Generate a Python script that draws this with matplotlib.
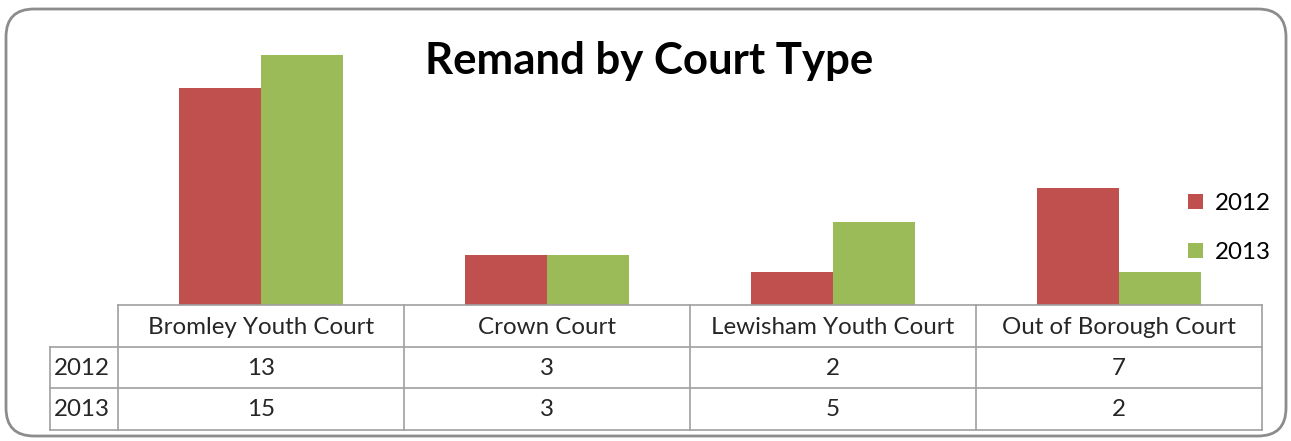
import matplotlib.pyplot as plt
from matplotlib.patches import FancyBboxPatch
import matplotlib.transforms as mtransforms
import numpy as np

courts = ["Bromley Youth Court", "Crown Court", "Lewisham Youth Court", "Out of Borough Court"]
years = ["2012", "2013"]
remand_2012 = [13, 3, 2, 7]
remand_2013 = [15, 3, 5, 2]

RED = "#C0504D"
GREEN = "#9BBB59"
GRID = "#A0A0A0"
W, H = 1291, 441

plt.rcParams['font.family'] = ['Lato', 'DejaVu Sans']

fig = plt.figure(figsize=(W / 100, H / 100), dpi=100)

# rounded outer frame, drawn in pixel units on a background axes
bg = fig.add_axes([0, 0, 1, 1], zorder=-5)
bg.set_xlim(0, W)
bg.set_ylim(H, 0)
bg.axis("off")
bg.add_patch(FancyBboxPatch((6, 9), 1280, 427,
                            boxstyle="round,pad=0,rounding_size=28",
                            facecolor="white", edgecolor="#8C8C8C", linewidth=2))

ax = fig.add_axes([118 / W, (H - 305) / H, 1144 / W, 285 / H])
ax.set_facecolor("none")
x = np.arange(len(courts))
bw = 0.287
ax.bar(x - bw / 2, remand_2012, bw, color=RED, label=years[0])
ax.bar(x + bw / 2, remand_2013, bw, color=GREEN, label=years[1])
ax.set_xlim(-0.5, len(courts) - 0.5)
ax.set_ylim(0, 17.1)
ax.axis("off")

# data table under the bars
tr = mtransforms.blended_transform_factory(ax.transData, fig.transFigure)
fy = lambda py: (H - py) / H
rows_y = [305, 347, 388, 430]
lab_left = -0.5 - 68 / 286
lkw = dict(color=GRID, lw=1.2, transform=tr, clip_on=False)

# horizontal lines
ax.plot([-0.5, 3.5], [fy(305)] * 2, **lkw)
for py in rows_y[1:]:
    ax.plot([lab_left, 3.5], [fy(py)] * 2, **lkw)
# vertical lines
for i in range(len(courts) + 1):
    ax.plot([i - 0.5] * 2, [fy(305), fy(430)], **lkw)
ax.plot([lab_left] * 2, [fy(347), fy(430)], **lkw)

tkw = dict(transform=tr, fontsize=17.4, color="#262626", va="center", ha="center")
for i, c in enumerate(courts):
    ax.text(i, fy(327), c, **tkw)
for r, (yr, vals) in enumerate(zip(years, [remand_2012, remand_2013])):
    yc = fy((rows_y[r + 1] + rows_y[r + 2]) / 2 + 1)
    ax.text(lab_left + 0.012, yc, yr, **{**tkw, "ha": "left"})
    for i, v in enumerate(vals):
        ax.text(i, yc, str(v), **tkw)

fig.text(649 / W, fy(61), "Remand by Court Type", ha="center", va="center",
         fontsize=31.5, fontweight="bold", color="black")

fig.legend(loc="center left", bbox_to_anchor=(1188 / W, fy(228)), frameon=False,
           fontsize=17.4, handlelength=0.6, handleheight=0.6, handletextpad=0.5,
           labelspacing=1.15, borderaxespad=0, borderpad=0)

fig.savefig("out.png", dpi=100)
